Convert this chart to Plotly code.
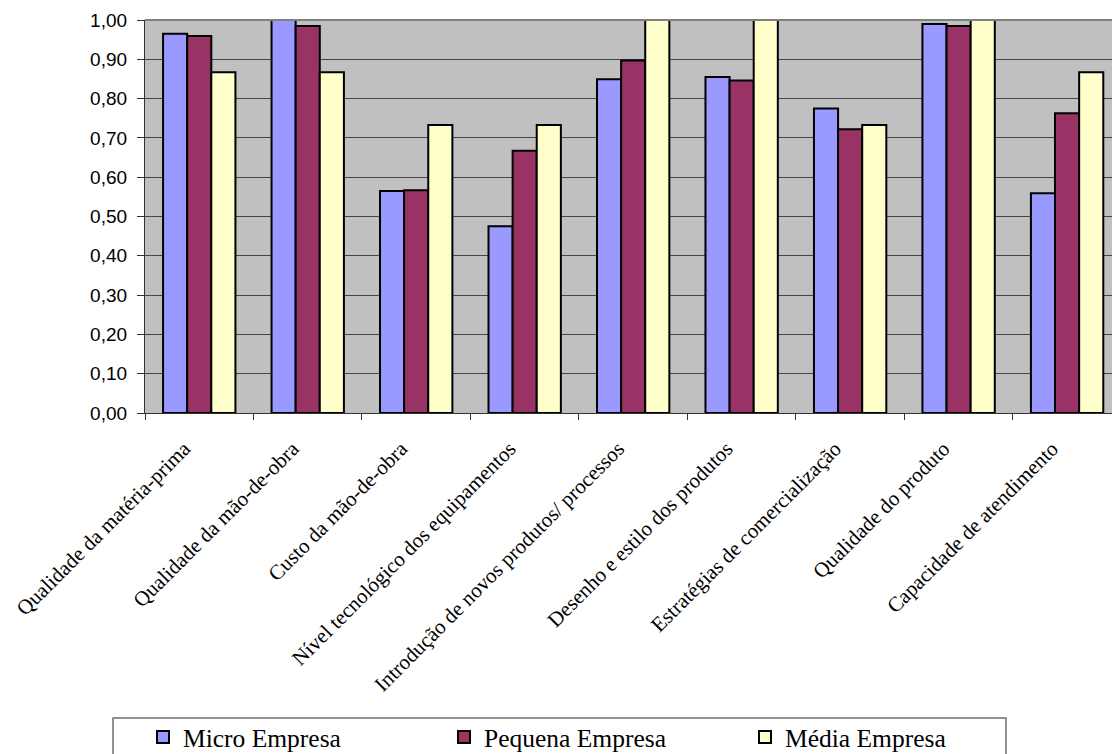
import plotly.graph_objects as go

categories = [
    "Qualidade da matéria-prima",
    "Qualidade da mão-de-obra",
    "Custo da mão-de-obra",
    "Nível tecnológico dos equipamentos",
    "Introdução de novos produtos/ processos",
    "Desenho e estilo dos produtos",
    "Estratégias de comercialização",
    "Qualidade do produto",
    "Capacidade de atendimento",
]
micro = [0.965, 1.00, 0.565, 0.475, 0.849, 0.855, 0.775, 0.990, 0.559]
pequena = [0.959, 0.985, 0.567, 0.667, 0.897, 0.846, 0.722, 0.985, 0.763]
media = [0.867, 0.867, 0.733, 0.733, 1.00, 1.00, 0.733, 1.00, 0.867]
series_names = ["Micro Empresa", "Pequena Empresa", "Média Empresa"]
series_colors = ["#9999FF", "#993366", "#FFFFCC"]
y_ticks = [0.0, 0.1, 0.2, 0.3, 0.4, 0.5, 0.6, 0.7, 0.8, 0.9, 1.0]

W, H = 1112, 754
L, R, T, B = 145, 0, 20, 341

fig = go.Figure()
for name, vals, col in zip(series_names, [micro, pequena, media], series_colors):
    fig.add_trace(go.Bar(
        x=categories, y=vals, name=name,
        marker=dict(color=col, line=dict(color="black", width=2)),
    ))

pw = W - L - R
ph = H - T - B


def px_x(x):
    return (x - L) / pw


def px_y(y):
    return (T + ph - y) / ph


fig.update_layout(
    width=W, height=H,
    margin=dict(l=L, r=R, t=T, b=B, autoexpand=False),
    paper_bgcolor="white",
    plot_bgcolor="#C0C0C0",
    barmode="group",
    bargap=0.333,
    bargroupgap=0,
    separators=",.",
    showlegend=True,
    legend=dict(
        orientation="h",
        x=px_x(143), xanchor="left",
        y=px_y(714), yanchor="top",
        borderwidth=0,
        bgcolor="rgba(0,0,0,0)",
        font=dict(family="Liberation Serif", size=25.5, color="black"),
        entrywidth=256, entrywidthmode="pixels",
        traceorder="normal",
    ),
    xaxis=dict(
        type="category",
        range=[-0.5, 8.414],
        tickson="boundaries",
        ticks="outside", ticklen=6, tickwidth=1, tickcolor="#333333",
        showline=True, linecolor="#333333", linewidth=1.2,
        showgrid=False,
        tickangle=-45,
        tickfont=dict(family="Liberation Serif", size=21, color="black"),
        ticklabelstandoff=14,
        ticklabelshift=-15,
        automargin=False,
    ),
    yaxis=dict(
        range=[0, 1.0],
        tickvals=y_ticks,
        tickformat=".2f",
        ticks="outside", ticklen=7, tickwidth=1, tickcolor="#333333",
        showline=True, linecolor="#333333", linewidth=1.2,
        showgrid=True, gridcolor="#454545", gridwidth=1,
        zeroline=False,
        tickfont=dict(family="Liberation Sans", size=19, color="black"),
        ticklabelstandoff=6,
        automargin=False,
    ),
    shapes=[
        dict(type="line", xref="paper", yref="paper", x0=0, x1=1, y0=1, y1=1,
             line=dict(color="#808080", width=2)),
        dict(type="rect", xref="paper", yref="paper",
             x0=px_x(113), x1=px_x(1006), y0=px_y(718), y1=px_y(775),
             line=dict(color="#707070", width=1.5), fillcolor="rgba(0,0,0,0)",
             layer="below"),
    ],
)

fig.write_html(
    "out.html",
    config={"displayModeBar": False},
    post_script="document.body.style.margin='0';document.body.style.overflow='hidden';",
)
